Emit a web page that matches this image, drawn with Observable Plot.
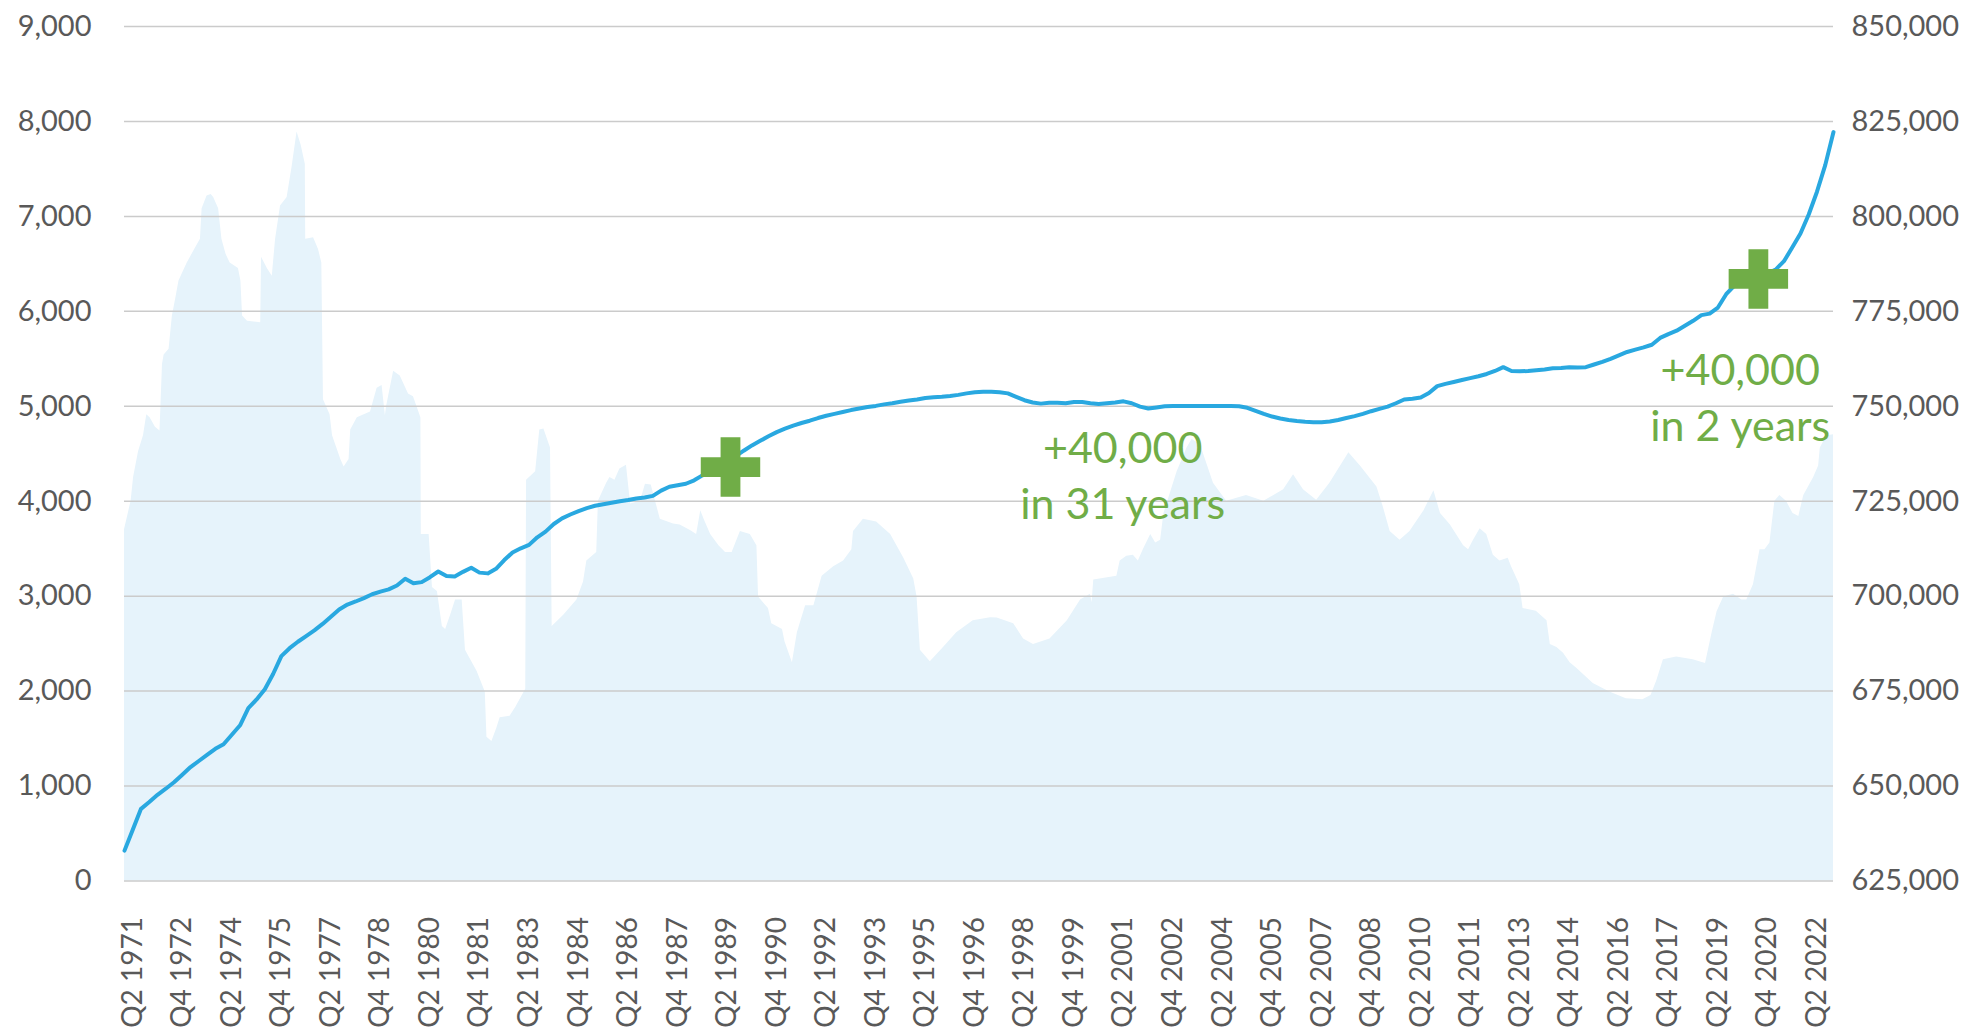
<!DOCTYPE html>
<html><head><meta charset="utf-8">
<script src="https://cdn.jsdelivr.net/npm/d3@7"></script>
<script src="https://cdn.jsdelivr.net/npm/@observablehq/plot@0.6"></script>
<style>
html,body{margin:0;padding:0;background:#fff;}
#chart{width:1977px;height:1033px;overflow:hidden;}
</style></head><body><div id="chart"></div>
<script>
// Quarter index 0 = Q1 1971, index 207 = Q4 2022
const firstYear = 1971;

// Line series (right axis), one value per quarter
const lineValues = [
  633000, 638500, 644000, 645800, 647700, 649300, 651000, 653000, 655000, 656600,
  658200, 659800, 661000, 663500, 666000, 670500, 672800, 675500, 679500, 684200,
  686300, 688000, 689500, 691000, 692700, 694600, 696500, 697800, 698600, 699500,
  700500, 701200, 701800, 702800, 704600, 703400, 703700, 705000, 706500, 705300,
  705200, 706400, 707500, 706200, 706000, 707200, 709500, 711500, 712600, 713500,
  715500, 717000, 719000, 720500, 721500, 722400, 723200, 723800, 724200, 724600,
  725000, 725300, 725700, 726000, 726400, 727800, 728800, 729200, 729600, 730500,
  731800, 732800, 733800, 735200, 736800, 738300, 739700, 740900, 742100, 743200,
  744100, 744900, 745600, 746200, 746900, 747500, 748000, 748500, 749000, 749400,
  749800, 750100, 750500, 750800, 751200, 751500, 751800, 752200, 752400, 752500,
  752700, 753000, 753400, 753700, 753800, 753800, 753700, 753400, 752500, 751600,
  751000, 750700, 750900, 750900, 750800, 751100, 751100, 750800, 750600, 750800,
  751000, 751300, 750800, 749900, 749400, 749700, 750000, 750100, 750100, 750100,
  750100, 750100, 750100, 750100, 750100, 750000, 749600, 748800, 748000, 747300,
  746800, 746400, 746100, 745900, 745800, 745800, 746000, 746400, 746900, 747400,
  748000, 748700, 749300, 749900, 750800, 751800, 752000, 752300, 753500, 755300,
  755900, 756400, 756900, 757400, 757900, 758500, 759300, 760300, 759300, 759200,
  759300, 759500, 759700, 760000, 760100, 760300, 760200, 760300, 761000, 761700,
  762500, 763400, 764300, 764900, 765500, 766200, 768000, 769000, 769900, 771200,
  772500, 774000, 774400, 776000, 779500, 781800, 782800, 783600, 784300, 785000,
  786000, 788200, 791800, 795500, 800500, 806500, 813500, 822200
];

// Area series (left axis), digitised: position in quarters since Q1 1971, value
const areaQuarter = [
  0, 0.8, 1.1, 1.7, 2.3, 2.7, 3.1, 3.75, 4.3, 4.6, 4.8, 5.4, 5.8, 6.2, 6.6, 7.6, 8.5, 9.2, 9.4, 10.0,
  10.5, 10.8, 11.4, 11.8, 12.3, 12.8, 13.8, 14.1, 14.3, 14.9, 16.5, 16.6, 17.3, 17.9, 18.3, 18.9, 19.7, 20.3, 20.9, 21.4,
  21.9, 21.95, 22.9, 23.5, 23.9, 24.1, 24.9, 25.2, 26.2, 26.6, 27.2, 27.4, 28.2, 29.8, 30.6, 31.2, 31.6, 31.75, 32.6, 33.4,
  34.4, 35.0, 35.9, 35.95, 36.9, 37.3, 37.9, 38.5, 38.9, 39.5, 40.1, 40.9, 41.3, 42.7, 43.7, 43.9, 44.5, 45.1, 45.5, 46.7,
  47.4, 48.6, 48.7, 49.8, 50.3, 50.8, 51.6, 51.8, 53.2, 54.8, 55.6, 56.0, 57.2, 57.4, 58.4, 58.8, 59.4, 60.0, 60.8, 61.3,
  62.5, 63.1, 63.8, 64.9, 66.5, 67.3, 68.6, 69.3, 69.8, 70.2, 71.0, 72.0, 72.8, 73.6, 74.6, 75.8, 76.6, 76.8, 78.0, 78.4,
  79.7, 80.0, 80.9, 81.5, 82.5, 83.5, 84.5, 85.9, 87.1, 88.1, 88.3, 89.5, 91.1, 92.8, 94.4, 95.6, 96.0, 96.4, 97.6, 99.2,
  100.8, 102.8, 104.9, 105.7, 107.7, 108.9, 110.1, 112.1, 114.2, 115.8, 117.0, 117.2, 117.4, 120.2, 120.6, 121.4, 122.2, 122.8, 123.4, 124.3,
  124.9, 125.5, 125.9, 127.5, 128.7, 129.3, 130.3, 131.9, 133.5, 135.9, 138.0, 140.4, 141.6, 142.8, 144.4, 146.0, 148.3, 149.7, 151.7, 152.5,
  153.3, 154.5, 155.7, 157.4, 158.6, 159.4, 160.6, 162.2, 162.8, 163.4, 164.2, 165.0, 165.8, 166.6, 167.6, 168.0, 169.0, 169.4, 171.0, 172.3,
  172.7, 173.5, 174.3, 175.1, 175.9, 177.9, 179.9, 181.9, 183.9, 184.9, 185.6, 186.4, 188.0, 190.0, 191.5, 192.3, 192.9, 193.7, 194.9, 195.9,
  196.5, 197.3, 198.1, 198.7, 199.3, 199.9, 200.5, 201.3, 202.1, 202.8, 203.4, 204.6, 205.2, 205.4, 206.2, 207
];
const areaValues = [
  3700, 4000, 4250, 4520, 4690, 4910, 4880, 4780, 4740, 5440, 5540, 5600, 5950, 6130, 6320, 6510, 6650, 6760, 7080, 7215,
  7230, 7200, 7080, 6760, 6600, 6510, 6450, 6320, 5950, 5895, 5880, 6570, 6450, 6370, 6760, 7110, 7200, 7520, 7890, 7750,
  7550, 6760, 6775, 6650, 6510, 5070, 4910, 4690, 4440, 4360, 4440, 4750, 4880, 4940, 5190, 5220, 4900, 5000, 5370, 5320,
  5130, 5100, 4880, 3650, 3650, 3090, 3050, 2680, 2650, 2800, 2960, 2960, 2430, 2210, 1990, 1515, 1470, 1610, 1720, 1735,
  1830, 2020, 4220, 4310, 4750, 4760, 4560, 2680, 2800, 2960, 3150, 3370, 3460, 4000, 4190, 4250, 4220, 4340, 4380, 3970,
  4000, 4180, 4170, 3810, 3760, 3750, 3690, 3650, 3900, 3810, 3650, 3530, 3460, 3460, 3680, 3650, 3530, 2990, 2870, 2710,
  2650, 2520, 2300, 2615, 2900, 2900, 3210, 3310, 3370, 3490, 3680, 3810, 3780, 3650, 3400, 3180, 2990, 2430, 2310, 2460,
  2615, 2740, 2772, 2770, 2710, 2550, 2490, 2550, 2740, 2960, 3020, 2930, 3170, 3210, 3370, 3420, 3430, 3370, 3490, 3650,
  3560, 3590, 3870, 4310, 4560, 4650, 4600, 4190, 4000, 4060, 4000, 4120, 4280, 4120, 4010, 4190, 4510, 4370, 4150, 3930,
  3680, 3590, 3680, 3900, 4110, 3870, 3750, 3530, 3490, 3590, 3710, 3650, 3430, 3370, 3400, 3310, 3120, 2870, 2840, 2740,
  2490, 2460, 2400, 2300, 2240, 2080, 1990, 1920, 1910, 1955, 2110, 2330, 2360, 2330, 2290, 2615, 2835, 2990, 3020, 2960,
  2960, 3120, 3490, 3490, 3560, 4000, 4060, 4000, 3870, 3840, 4060, 4250, 4370, 4560, 4690, 4700
];

// Axis tick labels
const tickLabels = [
  "Q2 1971","Q4 1972","Q2 1974","Q4 1975","Q2 1977","Q4 1978","Q2 1980","Q4 1981","Q2 1983",
  "Q4 1984","Q2 1986","Q4 1987","Q2 1989","Q4 1990","Q2 1992","Q4 1993","Q2 1995","Q4 1996",
  "Q2 1998","Q4 1999","Q2 2001","Q4 2002","Q2 2004","Q4 2005","Q2 2007","Q4 2008","Q2 2010",
  "Q4 2011","Q2 2013","Q4 2014","Q2 2016","Q4 2017","Q2 2019","Q4 2020","Q2 2022"
];
const leftTicks = [0, 1000, 2000, 3000, 4000, 5000, 6000, 7000, 8000, 9000];
const rightTicks = [625000, 650000, 675000, 700000, 725000, 750000, 775000, 800000, 825000, 850000];

// Annotations (data coordinates: quarter index, left-axis units)
const plusMarks = [{q: 73.4, v: 4360}, {q: 197.9, v: 6341}];
const notes = [
  {q: 120.9, v: 4405, text: "+40,000"},
  {q: 120.9, v: 3815, text: "in 31 years"},
  {q: 195.7, v: 5220, text: "+40,000"},
  {q: 195.7, v: 4630, text: "in 2 years"}
];

// Dual axis mapping: right axis 625,000..850,000 onto left 0..9,000
const rightMin = rightTicks[0];
const ratio = (rightTicks[rightTicks.length - 1] - rightMin) / leftTicks[leftTicks.length - 1];
const toLeft = v => (v - rightMin) / ratio;

const quarterOf = label => (+label.slice(3) - firstYear) * 4 + (+label[1] - 1);
const tickQuarters = tickLabels.map(quarterOf);
const labelByQuarter = new Map(tickLabels.map(l => [quarterOf(l), l]));

const lineData = lineValues.map((v, i) => ({q: i, v: toLeft(v)}));
const areaData = areaQuarter.map((q, i) => ({q, v: areaValues[i]}));
const fmt = d3.format(",");
const grey = "#595959";

const chart = Plot.plot({
  width: 1977, height: 1033,
  marginLeft: 124, marginRight: 144, marginTop: 26, marginBottom: 152.5,
  x: {domain: [0, lineValues.length - 1]},
  y: {domain: [0, 9000]},
  style: {fontFamily: "Lato, 'Open Sans', sans-serif", background: "#ffffff", overflow: "visible"},
  marks: [
    Plot.areaY(areaData, {x: "q", y: "v", fill: "#E6F3FB"}),
    Plot.ruleY(leftTicks, {stroke: "#CBCBCB", strokeWidth: 1.5}),
    Plot.axisY({anchor: "left", ticks: leftTicks, tickSize: 0, tickPadding: 33, tickFormat: fmt,
      fontSize: 29, fill: grey, label: null}),
    Plot.axisY({anchor: "right", ticks: rightTicks.map(toLeft), tickSize: 0, tickPadding: 18,
      tickFormat: d => fmt(Math.round(d * ratio + rightMin)), fontSize: 29, fill: grey, label: null}),
    Plot.axisX({ticks: tickQuarters, tickFormat: d => labelByQuarter.get(d), tickRotate: -90,
      tickSize: 0, tickPadding: 36, fontSize: 28, fill: grey, label: null}),
    Plot.lineY(lineData, {x: "q", y: "v", stroke: "#29A8E0", strokeWidth: 4, strokeLinejoin: "round"}),
    Plot.dot(plusMarks, {x: "q", y: "v", symbol: "cross", r: 25, fill: "#70AD47", stroke: "none"}),
    Plot.text(notes, {x: "q", y: "v", text: "text", fontSize: 43, fill: "#70AD47",
      lineAnchor: "bottom", textAnchor: "middle"})
  ]
});
document.getElementById("chart").appendChild(chart);
</script>
</body></html>
